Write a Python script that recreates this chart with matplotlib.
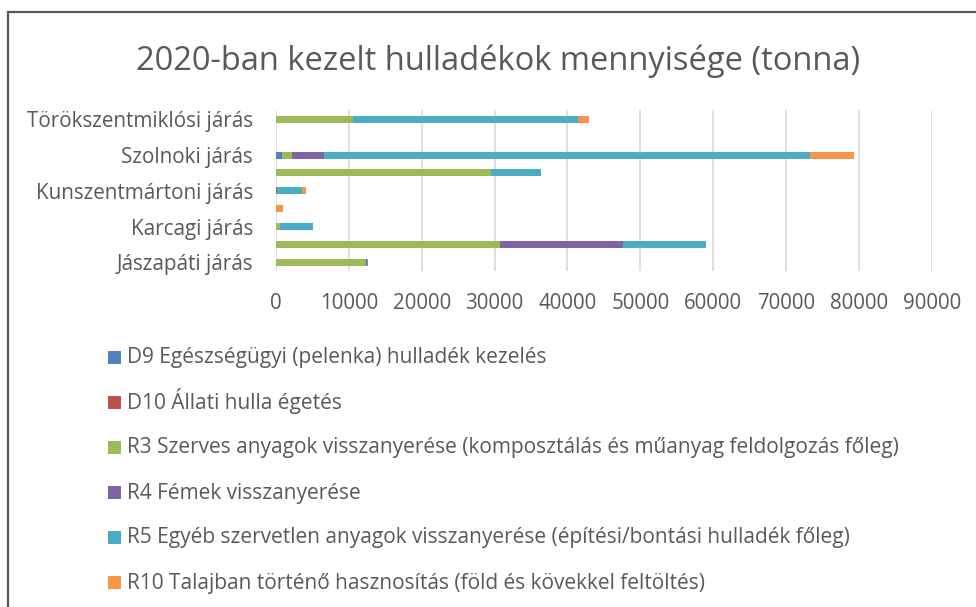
import numpy as np
import matplotlib
matplotlib.use("Agg")
import matplotlib.pyplot as plt
from matplotlib.lines import Line2D
from matplotlib.patches import Rectangle

plt.rcParams['font.family'] = ['Open Sans', 'DejaVu Sans']

# járások alulról felfelé
jarasok = ['Jászapáti járás', 'Jászberényi járás', 'Karcagi járás', 'Kunhegyesi járás',
           'Kunszentmártoni járás', 'Mezőtúri járás', 'Szolnoki járás', 'Tiszafüredi járás',
           'Törökszentmiklósi járás']

d9 = [0, 0, 0, 0, 0, 0, 780, 0, 0]
d10 = [0, 0, 0, 0, 150, 0, 0, 0, 0]
r3 = [12350, 30740, 590, 0, 0, 29550, 1420, 0, 10570]
r4 = [100, 16930, 0, 0, 0, 0, 4390, 0, 0]
r5 = [130, 11350, 4530, 0, 3420, 6820, 66660, 0, 30880]
r10 = [0, 0, 0, 920, 590, 0, 6080, 0, 1550]

nevek = ['D9 Egészségügyi (pelenka) hulladék kezelés',
         'D10 Állati hulla égetés',
         'R3 Szerves anyagok visszanyerése (komposztálás és műanyag feldolgozás főleg)',
         'R4 Fémek visszanyerése',
         'R5 Egyéb szervetlen anyagok visszanyerése (építési/bontási hulladék főleg)',
         'R10 Talajban történő hasznosítás (föld és kövekkel feltöltés)']
szinek = ['#4F81BD', '#C0504D', '#9BBB59', '#8064A2', '#4BACC6', '#F79646']
xticks = [0, 10000, 20000, 30000, 40000, 50000, 60000, 70000, 80000, 90000]

szurke = '#595959'
W, H = 976, 607

fig = plt.figure(figsize=(W / 100, H / 100), dpi=100)
ax = fig.add_axes([0.2828, 0.5532, 0.6718, 0.2649])

y = np.arange(len(jarasok))
bal = np.zeros(len(jarasok))
for ertek, nev, szin in zip([d9, d10, r3, r4, r5, r10], nevek, szinek):
    ax.barh(y, ertek, left=bal, height=0.39, color=szin, label=nev, zorder=3)
    bal += np.array(ertek)

ax.set_xlim(0, 90000)
ax.set_ylim(-0.5, len(jarasok) - 0.5)
ax.set_xticks(xticks)
ax.set_xticklabels([str(t) for t in xticks], fontsize=14.8)
# csak minden második járásnév fér ki
ax.set_yticks(y[::2])
ax.set_yticklabels(jarasok[::2], fontsize=14.9)
ax.tick_params(axis='both', length=0, labelcolor=szurke)
ax.tick_params(axis='x', pad=15.5)
ax.tick_params(axis='y', pad=16.5)
ax.grid(axis='x', color='#D9D9D9', linewidth=1.2, zorder=0)
for s in ax.spines.values():
    s.set_visible(False)

fig.text(0.5108, 0.899, '2020-ban kezelt hulladékok mennyisége (tonna)',
         ha='center', va='center', fontsize=23.5, color=szurke)

# jelmagyarázat egyenletes sorközzel, pixelben megadva
for i, (nev, szin) in enumerate(zip(nevek, szinek)):
    alap = 363.5 + 45 * i
    fig.add_artist(Rectangle((108 / W, 1 - alap / H), 13.4 / W, 13 / H,
                             facecolor=szin, edgecolor='none'))
    fig.text(127 / W, 1 - alap / H, nev, fontsize=15, color=szurke,
             ha='left', va='baseline')

# keret: felső és bal vonal
fig.add_artist(Line2D([0.0077, 1], [0.981, 0.981], color=szurke, lw=1.6))
fig.add_artist(Line2D([0.0077, 0.0077], [0, 0.981], color=szurke, lw=1.6))

fig.savefig('out.png', dpi=100)
